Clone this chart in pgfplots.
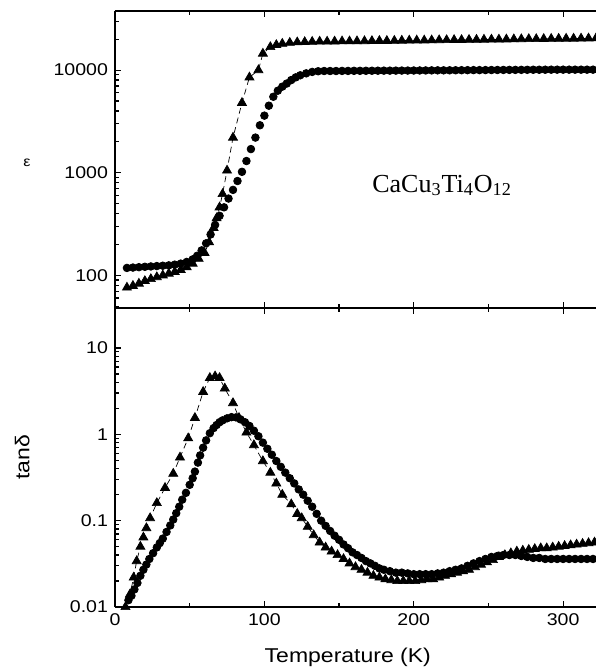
\documentclass[border=0pt]{standalone}
\usepackage{fontspec}
\setmainfont[FakeStretch=1.15]{Liberation Sans}
\newfontfamily\serif{Liberation Serif}
\usepackage{pgfplots}
\pgfplotsset{compat=1.18}

\pgfplotsset{
  mypanel/.style={
    width=240.5pt, scale only axis,
    xmin=0, xmax=322,
    axis x line*=box, axis y line*=left,
    axis line style={line width=0.9pt},
    tick align=inside,
    major tick length=3.2pt, minor tick length=1.8pt,
    tick style={line width=0.6pt, black},
    xtick={0,100,200,300}, minor x tick num=1,
    log ticks with fixed point,
    /pgf/number format/1000 sep={},
    /pgf/number format/assume math mode=true,
    ticklabel style={font=\fontsize{8.5}{10}\selectfont},
  },
  tri/.style={black, densely dashed, line width=0.35pt,
    mark=triangle*, mark size=2.6pt, mark options={solid, fill=black}},
  circ/.style={black, only marks, mark=*, mark size=1.9pt,
    mark options={fill=black}},
}

\begin{document}
\begin{tikzpicture}
\begin{axis}[ymode=log, mypanel, name=top, height=148.5pt,
    ymin=48, ymax=37700,
    xticklabels={},
    every axis y label/.style={at={(axis description cs:-0.183,0.49)}, anchor=center},
    ylabel={\fontsize{7}{8}\selectfont ε},
]
\addplot[tri] coordinates {
(8,76) (12,79) (16,83) (20,88) (24,92) (28,96) (32,100) (36,104) (40,108)
(44,113) (48,120) (52,130) (56,145) (60,165) (63,210) (66,290) (68,360)
(70,460) (72,620) (75,1050) (79,2200) (85,4800) (90,8500) (96,10000)
(99,14500) (104,16800) (108,17600) (112,18100) (117,18500) (122,18700)
(127,18800) (132,18900) (137,19000) (142,19000) (147,19050) (152,19100)
(157,19100) (162,19150) (167,19200) (172,19250) (177,19300) (182,19300)
(187,19350) (192,19400) (197,19450) (202,19500) (207,19500) (212,19550)
(217,19600) (222,19650) (227,19700) (232,19700) (237,19750) (242,19800)
(247,19850) (252,19900) (257,19900) (262,19950) (267,20000) (272,20050)
(277,20100) (282,20100) (287,20150) (292,20200) (297,20250) (302,20300)
(307,20300) (312,20350) (317,20400) (322,20450)
};
\addplot[circ] coordinates {
(8,118) (12,119) (16,120) (20,121) (24,122) (28,123) (32,124) (36,125)
(40,127) (44,130) (48,135) (52,143) (55,155) (58,175) (61,205) (64,250)
(67,310) (70,380) (73,460) (76,560) (79,680) (82,830) (85,1020) (88,1300)
(91,1700) (94,2200) (97,2900) (100,3600) (103,4500) (106,5500) (109,6300)
(112,6900) (115,7400) (118,8000) (121,8500) (124,8900) (128,9300)
(132,9600) (136,9750) (140,9800) (144,9800) (148,9800) (152,9820)
(156,9820) (160,9840) (164,9840) (168,9850) (172,9860) (176,9870)
(180,9880) (184,9880) (188,9890) (192,9900) (196,9900) (200,9910)
(204,9920) (208,9930) (212,9940) (216,9950) (220,9950) (224,9960)
(228,9970) (232,9980) (236,9990) (240,10000) (244,10000) (248,10010)
(252,10020) (256,10030) (260,10040) (264,10050) (268,10050) (272,10060)
(276,10070) (280,10080) (284,10080) (288,10090) (292,10100) (296,10100)
(300,10100) (304,10100) (308,10100) (312,10100) (316,10100) (320,10100)
};
\node[font=\serif\fontsize{13}{15}\selectfont] at (axis cs:219,750)
  {CaCu\textsubscript{3}Ti\textsubscript{4}O\textsubscript{12}};
\end{axis}

\begin{axis}[ymode=log, mypanel, name=bot,
    at={(top.south west)}, anchor=north west,
    height=149.5pt,
    ymin=0.01, ymax=29,
    xlabel={Temperature (K)},
    xlabel style={at={(axis description cs:0.484,-0.167)}, anchor=center,
      font=\fontsize{10}{12}\selectfont},
    ylabel={tanδ},
    ylabel style={at={(axis description cs:-0.193,0.5)}, anchor=center,
      font=\fontsize{10}{12}\selectfont},
]
\addplot[tri] coordinates {
(7,0.010) (10,0.014) (12.5,0.022) (14.5,0.034) (17,0.05) (19,0.064)
(21,0.082) (23.5,0.107) (28,0.16) (33.5,0.24) (39,0.35) (43.5,0.54)
(49,0.9) (53.5,1.55) (59,3.1) (63.5,4.5) (67,4.7) (70,4.5) (73.5,3.4)
(79,2.3) (83,1.55) (88,1.05) (93,0.75) (99,0.49) (104,0.36) (108,0.27)
(112,0.2) (118,0.155) (122,0.12) (125,0.107) (129,0.085) (133,0.068)
(137,0.056) (141,0.049) (145,0.044) (149,0.04) (153,0.036) (157,0.032)
(161,0.029) (165,0.027) (169,0.025) (173,0.023) (177,0.022) (181,0.021)
(185,0.0205) (189,0.02) (193,0.02) (197,0.02) (201,0.02) (205,0.0205)
(209,0.021) (213,0.021) (217,0.022) (221,0.023) (225,0.024) (229,0.025)
(233,0.026) (237,0.027) (241,0.029) (245,0.031) (249,0.033) (253,0.035)
(257,0.038) (261,0.04) (265,0.042) (269,0.044) (273,0.045) (277,0.046)
(281,0.047) (285,0.048) (289,0.048) (293,0.049) (297,0.05) (301,0.051)
(305,0.052) (309,0.053) (313,0.054) (317,0.055) (321,0.056)
};
\addplot[circ] coordinates {
(9,0.012) (11,0.0135) (13,0.016) (15,0.019) (17,0.023) (19,0.027)
(21,0.031) (23,0.036) (25.5,0.042) (28,0.049) (30,0.055) (32,0.062)
(34.5,0.074) (37,0.088) (39,0.103) (41,0.122) (43,0.145) (45,0.175)
(47.5,0.21) (50,0.26) (52,0.31) (53.5,0.37) (55.5,0.47) (57,0.57)
(59,0.7) (61,0.85) (63.5,1.03) (66,1.18) (68,1.28) (70,1.38) (72,1.45)
(75,1.53) (78,1.58) (81,1.57) (84,1.49) (87,1.38) (90,1.25) (93,1.1)
(96,0.95) (99,0.8) (102,0.68) (105,0.58) (108,0.49) (111,0.42) (114,0.36)
(117,0.31) (120,0.27) (123,0.23) (126,0.2) (129,0.17) (132,0.145)
(135,0.12) (138,0.1) (141,0.087) (144,0.076) (147,0.067) (150,0.06)
(153,0.053) (156,0.048) (159,0.043) (162,0.04) (165,0.037) (168,0.034)
(171,0.032) (174,0.03) (177,0.028) (180,0.027) (184,0.026) (188,0.025)
(192,0.025) (196,0.0245) (200,0.024) (204,0.024) (208,0.024) (212,0.024)
(216,0.0245) (220,0.025) (224,0.026) (228,0.027) (232,0.028) (236,0.03)
(240,0.032) (244,0.034) (248,0.036) (252,0.038) (256,0.039) (260,0.04)
(264,0.04) (268,0.04) (272,0.039) (276,0.038) (280,0.037) (284,0.037)
(288,0.036) (292,0.036) (296,0.036) (300,0.036) (304,0.036) (308,0.036)
(312,0.036) (316,0.036) (320,0.036)
};
\end{axis}
\pgfresetboundingbox
\path ([shift={(-57.5pt,5.5pt)}]top.north west) rectangle ([shift={(0pt,-32.5pt)}]bot.south east);
\end{tikzpicture}
\end{document}
